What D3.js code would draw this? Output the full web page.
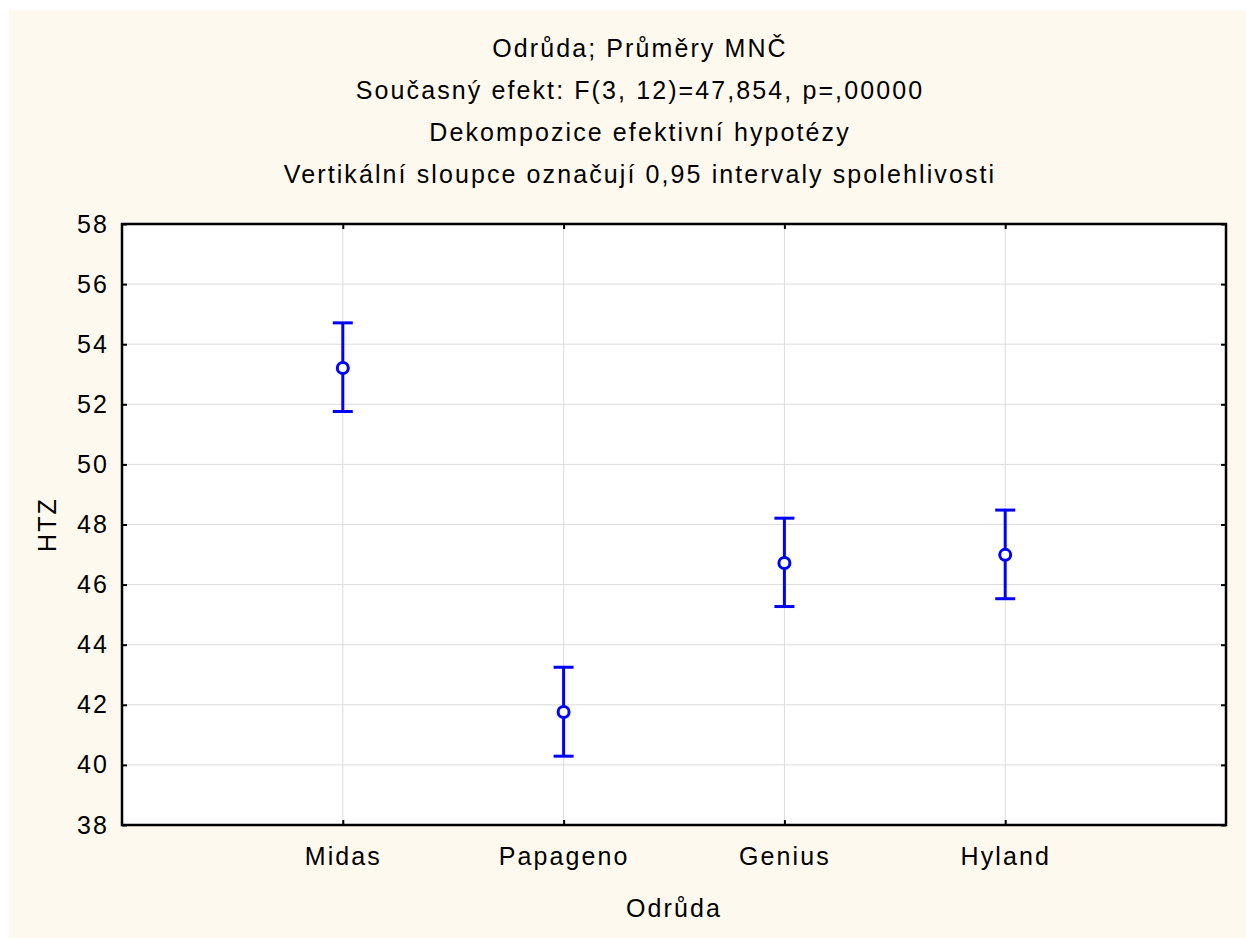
<!DOCTYPE html>
<html>
<head>
<meta charset="utf-8">
<script src="https://cdn.jsdelivr.net/npm/d3@7"></script>
<style>
  body { margin: 0; background: #fff; }
  text { font-family: "Liberation Sans", Arial, sans-serif; fill: #000; letter-spacing: 2.1px; }
</style>
</head>
<body>
<div id="chart"></div>
<script>
// data
const varieties = ['Midas', 'Papageno', 'Genius', 'Hyland'];
const means = [53.21, 41.76, 46.72, 46.99];
const lower = [51.76, 40.29, 45.27, 45.53];
const upper = [54.71, 43.25, 48.21, 48.48];
const yTicks = [38, 40, 42, 44, 46, 48, 50, 52, 54, 56, 58];
const titleLines = [
  'Odrůda; Průměry MNČ',
  'Současný efekt: F(3, 12)=47,854, p=,00000',
  'Dekompozice efektivní hypotézy',
  'Vertikální sloupce označují 0,95 intervaly spolehlivosti'
];

const width = 1246, height = 938;
const margin = { top: 224, right: 20, bottom: 113, left: 122 };
const innerW = width - margin.left - margin.right;
const innerH = height - margin.top - margin.bottom;

const svg = d3.select('#chart')
  .append('svg')
  .attr('width', width)
  .attr('height', height);

svg.append('rect')
  .attr('x', 9).attr('y', 10)
  .attr('width', width - 9).attr('height', height - 10)
  .attr('fill', '#fef9ee');

const x = d3.scalePoint()
  .domain(varieties)
  .range([0, innerW])
  .padding(1);

const y = d3.scaleLinear()
  .domain([38, 58])
  .range([innerH, 0]);

const g = svg.append('g')
  .attr('transform', `translate(${margin.left},${margin.top})`);

g.append('rect')
  .attr('width', innerW).attr('height', innerH)
  .attr('fill', '#fff');

// grid
g.append('g')
  .selectAll('line')
  .data(yTicks.slice(1, -1))
  .join('line')
  .attr('x1', 0).attr('x2', innerW)
  .attr('y1', d => y(d)).attr('y2', d => y(d))
  .attr('stroke', '#dcdcdc').attr('stroke-width', 1);

g.append('g')
  .selectAll('line')
  .data(varieties)
  .join('line')
  .attr('x1', d => x(d)).attr('x2', d => x(d))
  .attr('y1', 0).attr('y2', innerH)
  .attr('stroke', '#dcdcdc').attr('stroke-width', 1);

// axes, ticks point inward
const fontSize = 25;
const styleAxis = (sel, showLabels) => {
  sel.select('.domain').remove();
  sel.selectAll('.tick line').attr('stroke', '#000').attr('stroke-width', 2);
  sel.selectAll('.tick text')
    .style('font-size', fontSize + 'px')
    .style('font-family', '"Liberation Sans", Arial, sans-serif')
    .attr('fill', '#000');
  if (!showLabels) sel.selectAll('.tick text').remove();
};

g.append('g')
  .call(d3.axisLeft(y).tickValues(yTicks).tickSize(-5).tickPadding(13).tickFormat(d3.format('d')))
  .call(s => styleAxis(s, true));

g.append('g')
  .attr('transform', `translate(${innerW},0)`)
  .call(d3.axisRight(y).tickValues(yTicks).tickSize(-5))
  .call(s => styleAxis(s, false));

g.append('g')
  .attr('transform', `translate(0,${innerH})`)
  .call(d3.axisBottom(x).tickSize(-5).tickPadding(22))
  .call(s => styleAxis(s, true));

g.append('g')
  .call(d3.axisTop(x).tickSize(-5))
  .call(s => styleAxis(s, false));

// frame
g.append('rect')
  .attr('width', innerW).attr('height', innerH)
  .attr('fill', 'none')
  .attr('stroke', '#000').attr('stroke-width', 2.5);

// error bars
const idx = d3.range(varieties.length);
const blue = '#0000ff';
const cap = 10;

const bars = g.append('g').attr('stroke', blue).attr('stroke-width', 3).attr('fill', 'none');
bars.selectAll('line.stem')
  .data(idx)
  .join('line')
  .attr('class', 'stem')
  .attr('x1', i => x(varieties[i])).attr('x2', i => x(varieties[i]))
  .attr('y1', i => y(upper[i])).attr('y2', i => y(lower[i]));

bars.selectAll('line.capTop')
  .data(idx)
  .join('line')
  .attr('class', 'capTop')
  .attr('x1', i => x(varieties[i]) - cap).attr('x2', i => x(varieties[i]) + cap)
  .attr('y1', i => y(upper[i])).attr('y2', i => y(upper[i]));

bars.selectAll('line.capBot')
  .data(idx)
  .join('line')
  .attr('class', 'capBot')
  .attr('x1', i => x(varieties[i]) - cap).attr('x2', i => x(varieties[i]) + cap)
  .attr('y1', i => y(lower[i])).attr('y2', i => y(lower[i]));

g.append('g')
  .selectAll('circle')
  .data(idx)
  .join('circle')
  .attr('cx', i => x(varieties[i]))
  .attr('cy', i => y(means[i]))
  .attr('r', 5.5)
  .attr('fill', '#fff')
  .attr('stroke', blue)
  .attr('stroke-width', 3);

// titles
svg.append('g')
  .selectAll('text')
  .data(titleLines)
  .join('text')
  .attr('x', 640)
  .attr('y', (d, i) => 57 + i * 42)
  .attr('text-anchor', 'middle')
  .style('font-size', fontSize + 'px')
  .text(d => d);

svg.append('text')
  .attr('x', margin.left + innerW / 2)
  .attr('y', 917)
  .attr('text-anchor', 'middle')
  .style('font-size', fontSize + 'px')
  .text('Odrůda');

svg.append('text')
  .attr('transform', `translate(56,${margin.top + innerH / 2}) rotate(-90)`)
  .attr('text-anchor', 'middle')
  .style('font-size', fontSize + 'px')
  .text('HTZ');
</script>
</body>
</html>
